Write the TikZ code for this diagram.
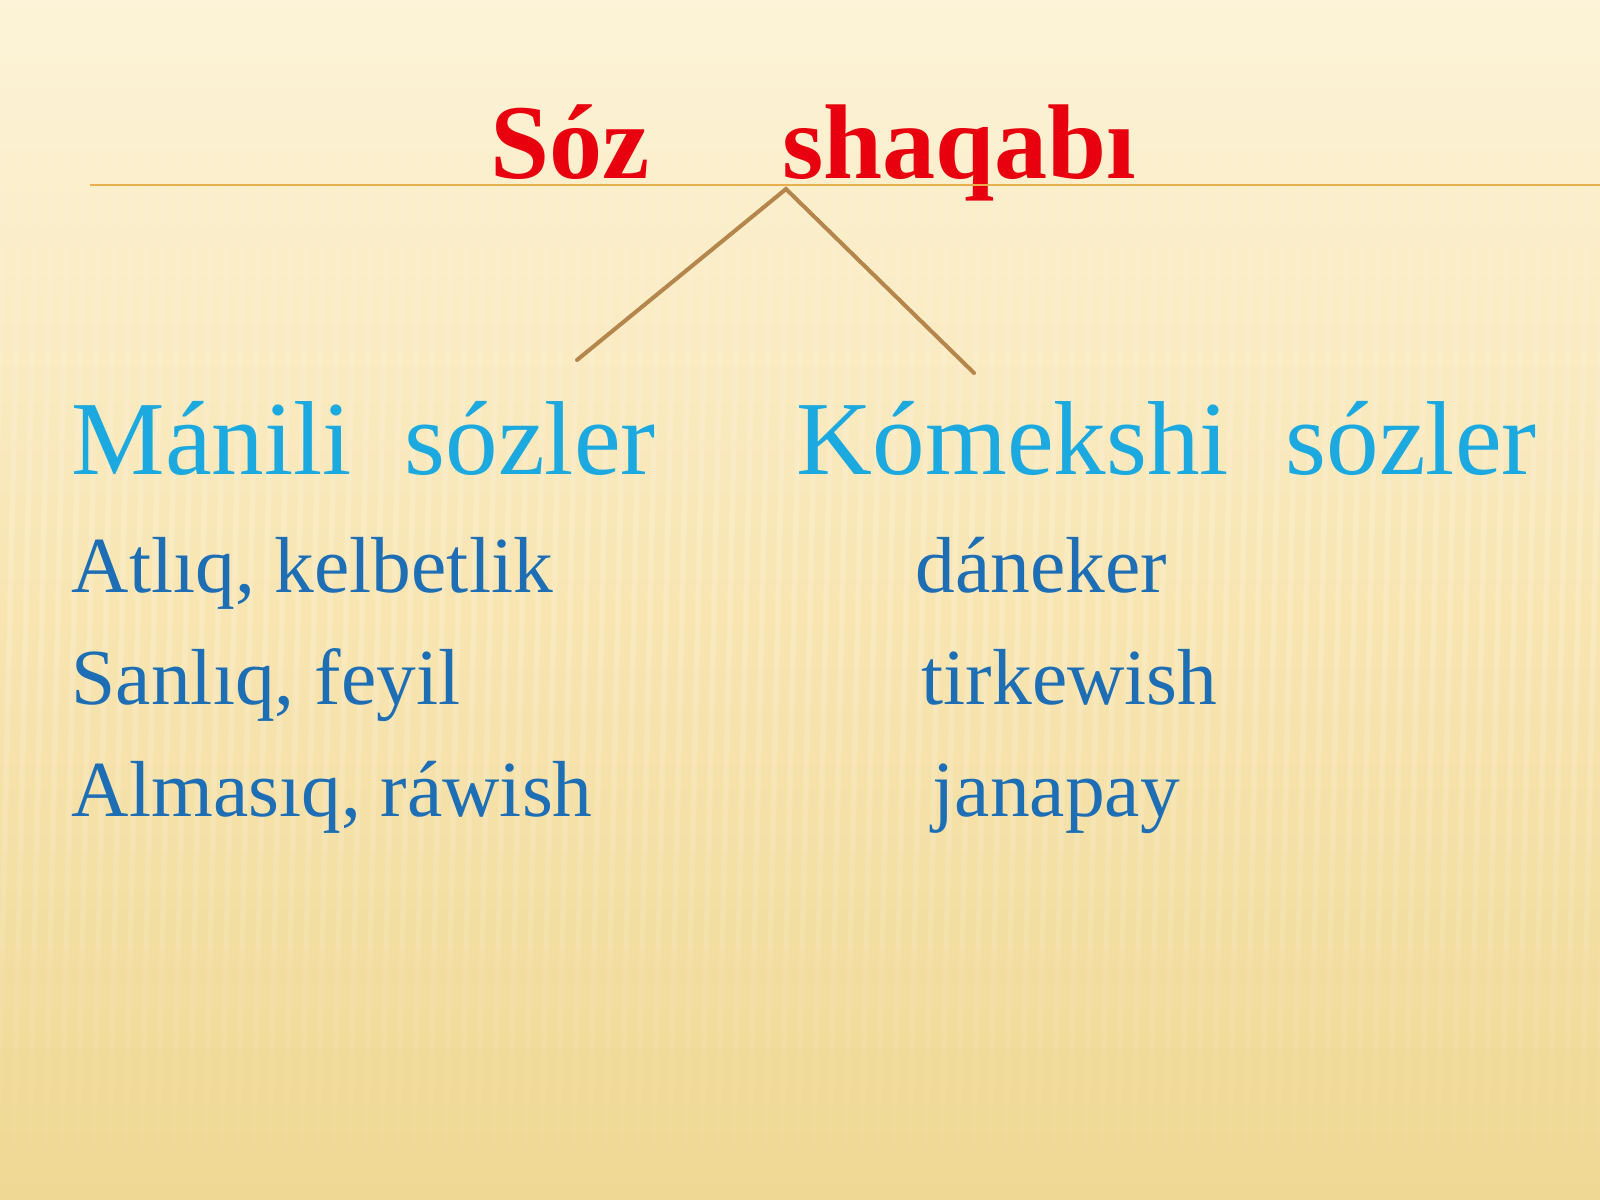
\documentclass[tikz,border=0pt]{standalone}
\usepackage{fontspec}
\setmainfont{Liberation Serif}
\usetikzlibrary{positioning}
\definecolor{paper top}{HTML}{FCF3D8}
\definecolor{paper mid}{HTML}{F8E5B2}
\definecolor{paper low}{HTML}{EFD894}
\definecolor{title red}{HTML}{E8000E}
\definecolor{head blue}{HTML}{1CA9E0}
\definecolor{item blue}{HTML}{1D6EB4}
\definecolor{branch brown}{HTML}{B5864C}
\definecolor{rule orange}{HTML}{E9AE4E}
\tikzstyle{word} = [inner sep=0pt, anchor=base west]
\tikzstyle{title} = [word, text=title red, font=\bfseries\fontsize{30.2}{36}\selectfont]
\tikzstyle{head} = [word, text=head blue, font=\fontsize{29.9}{36}\selectfont]
\tikzstyle{item} = [word, text=item blue, font=\fontsize{22.6}{27}\selectfont]
\tikzstyle{branch} = [draw=branch brown, line width=1.15pt, line cap=round]
\tikzstyle{stripe} = [white, line width=1.6pt]
\begin{document}
\begin{tikzpicture}[x=0.01cm, y=-0.01cm]
    % Background.
    \useasboundingbox (0,0) rectangle (1600,1200);
    \shade [top color=paper top, bottom color=paper low, middle color=paper mid] (0,0) rectangle (1600,1200);
    \foreach \y/\o in {150/0.04, 250/0.09, 350/0.14, 450/0.17, 550/0.18, 650/0.17, 750/0.15, 850/0.12, 950/0.08, 1050/0.04} {%
        \draw [stripe, opacity=\o]
            \foreach \i in {0, 1, ..., 101} {(\i*16+8-\y*0.023, \y) -- (\i*16+8-\y*0.023-2.3, \y+100)};
    }

    % Title and rule.
    \node (title) [title] at (490, 178.6) {Sóz\hspace{1.32cm}shaqabı};
    \coordinate (rule l) at (90, 185);
    \coordinate (rule r) at (1600, 185);
    \draw [rule orange, line width=0.6pt] (rule l) -- (rule r);

    % Branches.
    \coordinate (apex) at (786, 189);
    \coordinate (foot l) at (577, 360);
    \coordinate (foot r) at (974, 373);
    \draw [branch] (foot l) -- (apex) -- (foot r);

    % Headings.
    \node (meaning) [head] at (71, 474.5) {Mánili\hspace{0.5em}sózler};
    \node (helper) [head] at (796, 474.5) {Kómekshi\hspace{0.54em}sózler};

    % Word classes.
    \node (noun) [item] at (71, 592) {Atlıq, kelbetlik};
    \node (num) [item] at (71, 704) {Sanlıq, feyil};
    \node (pron) [item] at (71, 816) {Almasıq, ráwish};
    \node (conj) [item] at (915, 592) {dáneker};
    \node (post) [item] at (921, 704) {tirkewish};
    \node (part) [item] at (932, 816) {janapay};
\end{tikzpicture}
\end{document}
